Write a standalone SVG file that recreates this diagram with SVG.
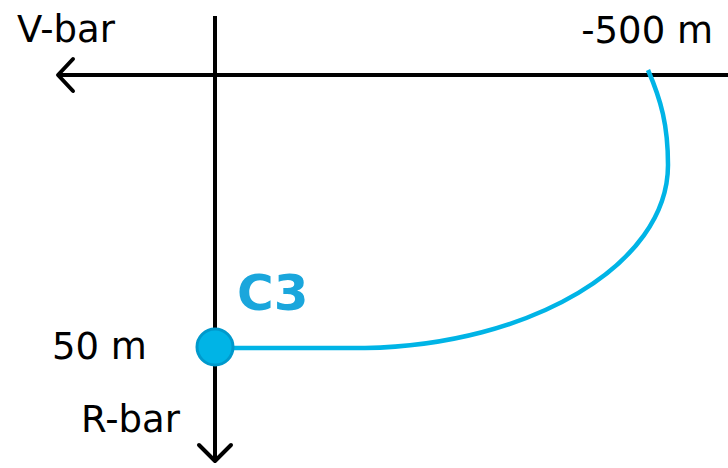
<svg xmlns="http://www.w3.org/2000/svg" width="728" height="468" viewBox="0 0 728 468">
<style>
.axis{stroke:#000;stroke-width:4;fill:none}
.head{stroke:#000;stroke-width:4;fill:none;stroke-linecap:round;stroke-linejoin:round}
.lbl{font-family:"DejaVu Sans",Verdana,sans-serif;font-size:37px;fill:#000}
.traj{stroke:#00b4e6;stroke-width:4.5;fill:none}
</style>
<rect width="728" height="468" fill="#fff"/>
<g id="connectors">
<line class="axis" x1="58" y1="75" x2="728" y2="75"/>
<polyline class="head" points="73,59 58,75 73,91"/>
<line class="axis" x1="215" y1="16" x2="215" y2="460"/>
<polyline class="head" points="199,445 215,461 231,445"/>
<path class="traj" d="M215,348 L365,348 C530,345 668,265 668,165 C668,125 661,100 648,70"/>
</g>
<g id="labels">
<text class="lbl" x="17" y="42">V-bar</text>
<text class="lbl" x="713" y="43" text-anchor="end">-500 m</text>
<text class="lbl" x="52" y="359">50 m</text>
<text class="lbl" x="81" y="432">R-bar</text>
</g>
<g id="C3">
<circle cx="215" cy="347" r="18" fill="#00b4e6" stroke="#0099cc" stroke-width="3"/>
<text x="237" y="310" font-family="'DejaVu Sans',Verdana,sans-serif" font-weight="bold" font-size="50" fill="#1aa6dc">C3</text>
</g>
</svg>
